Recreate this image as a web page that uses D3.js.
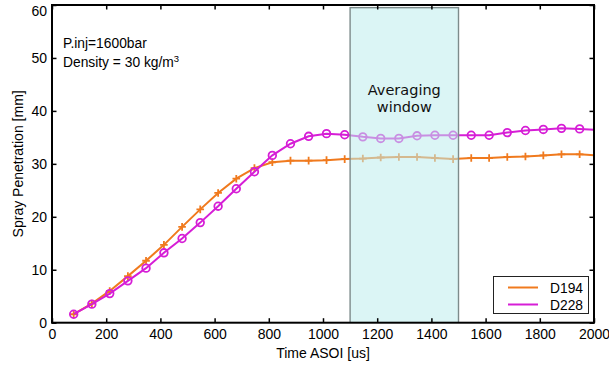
<!DOCTYPE html>
<html>
<head>
<meta charset="utf-8">
<script src="https://cdn.jsdelivr.net/npm/d3@7"></script>
<style>
  html, body { margin: 0; padding: 0; background: #fff; }
  svg text { font-family: "Liberation Sans", Arial, Helvetica, sans-serif; }
</style>
</head>
<body>
<svg id="chart" width="609" height="367"></svg>
<script>
// Sample times after start of injection [us]
const times = [80, 147, 213, 280, 347, 413, 480, 547, 613, 680, 747, 813, 880, 947, 1013,
               1080, 1147, 1213, 1280, 1347, 1413, 1480, 1547, 1613, 1680, 1747, 1813, 1880, 1947, 2013];
// Spray penetration [mm] per nozzle
const d194 = [1.6, 3.6, 6.0, 8.8, 11.7, 14.7, 18.1, 21.4, 24.5, 27.2, 29.2, 30.3, 30.6, 30.6, 30.7,
              30.9, 31.0, 31.2, 31.3, 31.3, 31.1, 30.9, 31.1, 31.1, 31.3, 31.4, 31.6, 31.8, 31.8, 31.6];
const d228 = [1.6, 3.5, 5.5, 7.9, 10.3, 13.2, 15.9, 18.9, 22.0, 25.3, 28.5, 31.6, 33.8, 35.2, 35.7,
              35.5, 35.1, 34.8, 34.8, 35.3, 35.4, 35.4, 35.4, 35.4, 35.9, 36.3, 36.5, 36.7, 36.6, 36.4];
const seriesNames = ["D194", "D228"];
const xTicks = [0, 200, 400, 600, 800, 1000, 1200, 1400, 1600, 1800, 2000];
const yTicks = [0, 10, 20, 30, 40, 50, 60];
const windowRange = [1100, 1500];
const windowTop = 59.5;

const svg = d3.select("#chart");
const pLeft = 52, pRight = 594, pTop = 5, pBottom = 322.7;

const x = d3.scaleLinear().domain([0, 2000]).range([pLeft, pRight]);
const y = d3.scaleLinear().domain([0, 60]).range([pBottom, pTop]);

const colors = { D194: "#f07a1e", D228: "#d61ed6" };

svg.append("defs").append("clipPath").attr("id", "plotClip")
  .append("rect").attr("x", pLeft).attr("y", pTop)
  .attr("width", pRight - pLeft).attr("height", pBottom - pTop);

const plot = svg.append("g").attr("clip-path", "url(#plotClip)");

const line = d3.line().x((d, i) => x(times[i])).y(d => y(d));

// D194: line with plus markers
plot.append("path").datum(d194)
  .attr("d", line).attr("fill", "none")
  .attr("stroke", colors.D194).attr("stroke-width", 2);
plot.append("g").selectAll("path").data(d194).join("path")
  .attr("d", (d, i) => {
    const cx = x(times[i]), cy = y(d), r = 3.8;
    return `M${cx - r},${cy}H${cx + r}M${cx},${cy - r}V${cy + r}`;
  })
  .attr("stroke", colors.D194).attr("stroke-width", 1.8);

// D228: line with circle markers
plot.append("path").datum(d228)
  .attr("d", line).attr("fill", "none")
  .attr("stroke", colors.D228).attr("stroke-width", 2);
plot.append("g").selectAll("circle").data(d228).join("circle")
  .attr("cx", (d, i) => x(times[i])).attr("cy", d => y(d))
  .attr("r", 3.8).attr("fill", "none")
  .attr("stroke", colors.D228).attr("stroke-width", 1.8);

// Averaging window: translucent patch drawn over the curves
plot.append("rect")
  .attr("x", x(windowRange[0])).attr("y", y(windowTop))
  .attr("width", x(windowRange[1]) - x(windowRange[0]))
  .attr("height", y(0) - y(windowTop))
  .attr("fill", "rgb(190,236,236)").attr("fill-opacity", 0.55)
  .attr("stroke", "#7d8b8b").attr("stroke-width", 1.4);

const wx = x((windowRange[0] + windowRange[1]) / 2);
const wt = svg.append("text")
  .attr("text-anchor", "middle")
  .style("font-family", "'DejaVu Sans', sans-serif")
  .style("font-size", "14.5px").attr("fill", "#111");
wt.append("tspan").attr("x", wx).attr("y", 95).text("Averaging");
wt.append("tspan").attr("x", wx).attr("y", 112).text("window");

// Axes box with inward ticks on all four sides
const tickLen = 4.5;
const bottomAxis = d3.axisBottom(x).tickValues(xTicks).tickSize(-tickLen).tickPadding(6.5).tickFormat(d3.format("d"));
const leftAxis = d3.axisLeft(y).tickValues(yTicks).tickSize(-tickLen).tickPadding(5);
const topAxis = d3.axisTop(x).tickValues(xTicks).tickSize(-tickLen).tickFormat("");
const rightAxis = d3.axisRight(y).tickValues(yTicks).tickSize(-tickLen).tickFormat("");

function styleAxis(g) {
  g.select(".domain").remove();
  g.selectAll(".tick line").attr("stroke", "#000").attr("stroke-width", 1.5);
  g.selectAll(".tick text").attr("fill", "#000").style("font-size", "14px")
    .style("font-family", "'Liberation Sans', Arial, sans-serif");
}

svg.append("g").attr("transform", `translate(0,${pBottom})`).call(bottomAxis).call(styleAxis);
const gLeft = svg.append("g").attr("transform", `translate(${pLeft},0)`).call(leftAxis).call(styleAxis);
// keep the topmost label inside the page
gLeft.selectAll(".tick").filter(d => d === 60).select("text").attr("dy", "0.72em").attr("y", 0)
  .attr("transform", "translate(0,0.3)");
svg.append("g").attr("transform", `translate(0,${pTop})`).call(topAxis).call(styleAxis);
svg.append("g").attr("transform", `translate(${pRight},0)`).call(rightAxis).call(styleAxis);

svg.append("rect")
  .attr("x", pLeft).attr("y", pTop).attr("width", pRight - pLeft).attr("height", pBottom - pTop)
  .attr("fill", "none").attr("stroke", "#000").attr("stroke-width", 2);

// Axis titles
svg.append("text")
  .attr("x", (pLeft + pRight) / 2).attr("y", 358)
  .attr("text-anchor", "middle").style("font-size", "14px").text("Time ASOI [us]");
svg.append("text")
  .attr("transform", `translate(23,${(pTop + pBottom) / 2}) rotate(-90)`)
  .attr("text-anchor", "middle").style("font-size", "14px").text("Spray Penetration [mm]");

// Test conditions
svg.append("text").attr("x", 63).attr("y", 48).style("font-size", "13.8px").text("P.inj=1600bar");
const dens = svg.append("text").attr("x", 63).attr("y", 67).style("font-size", "13.8px");
dens.append("tspan").text("Density = 30 kg/m");
dens.append("tspan").attr("dy", -5).style("font-size", "9.5px").text("3");

// Legend
const lg = svg.append("g");
lg.append("rect").attr("x", 493.5).attr("y", 276.5).attr("width", 95).attr("height", 37)
  .attr("fill", "#fff").attr("stroke", "#222").attr("stroke-width", 1);
seriesNames.forEach((name, i) => {
  const ly = 287.5 + i * 17;
  lg.append("line").attr("x1", 508).attr("x2", 538).attr("y1", ly).attr("y2", ly)
    .attr("stroke", colors[name]).attr("stroke-width", 2);
  lg.append("text").attr("x", 550).attr("y", ly + 5).style("font-size", "13.8px").text(name);
});
</script>
</body>
</html>
